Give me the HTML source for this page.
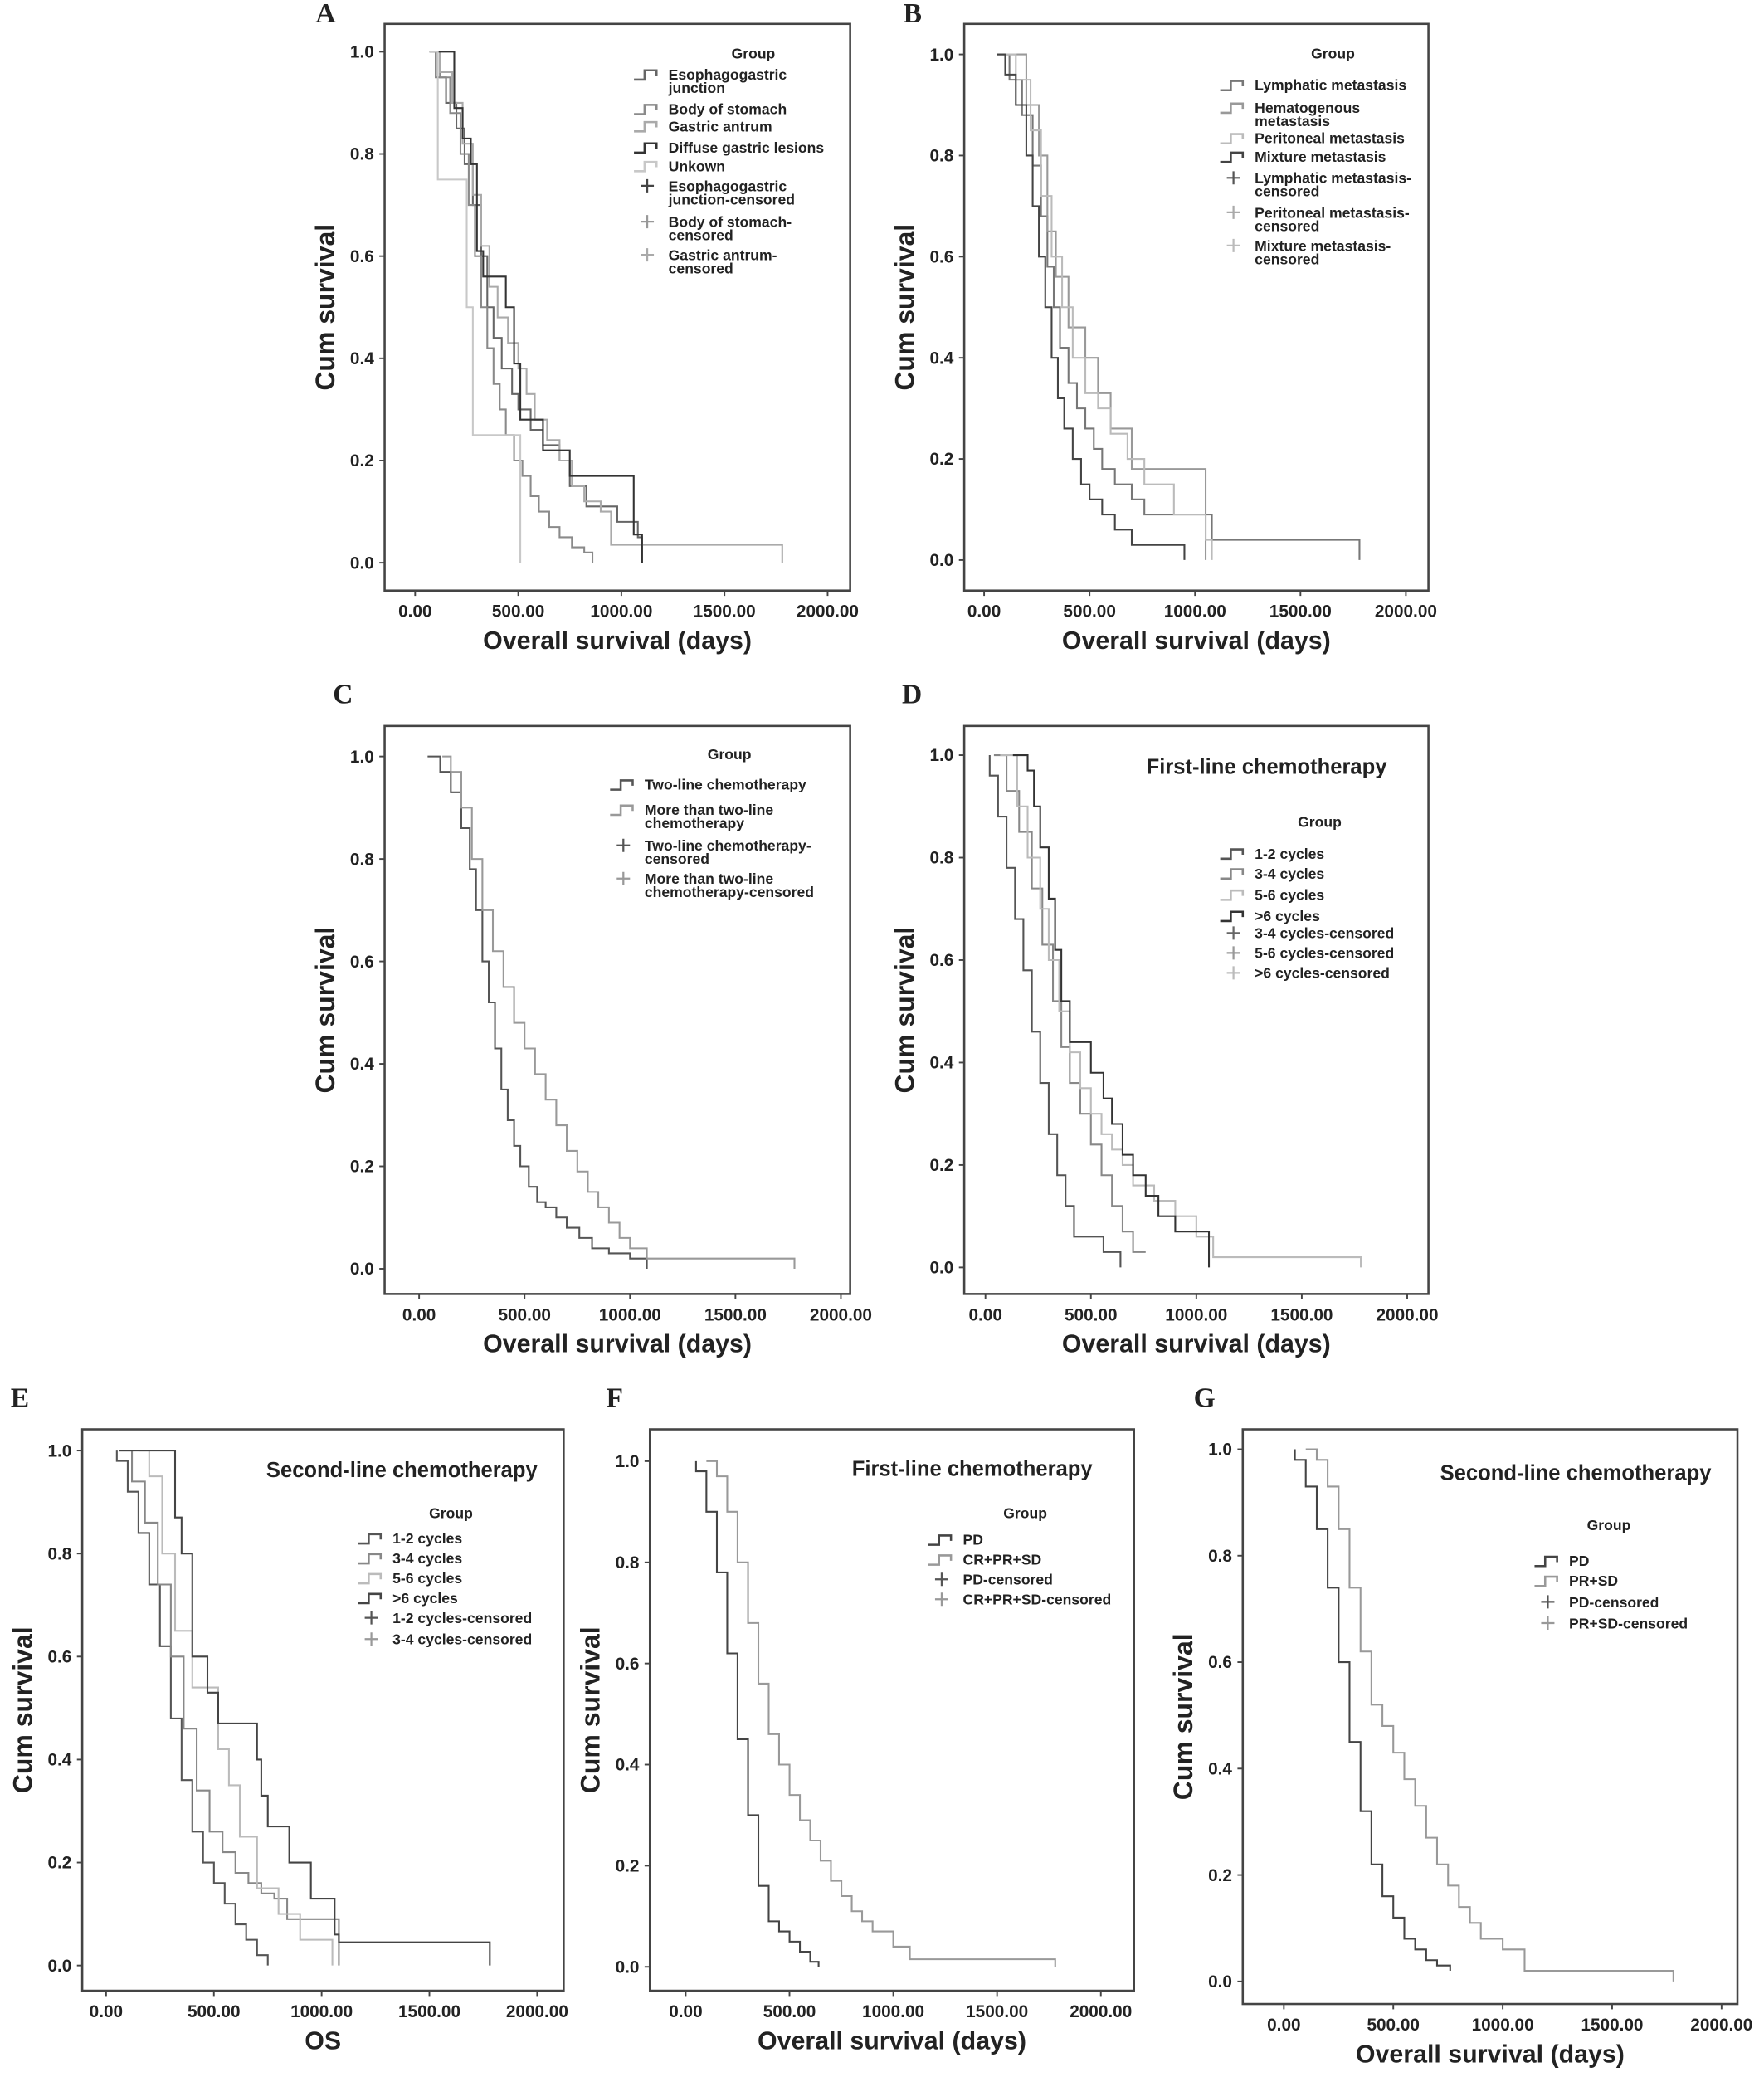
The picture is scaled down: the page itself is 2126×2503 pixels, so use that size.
<!DOCTYPE html>
<html><head><meta charset="utf-8"><style>
html,body{margin:0;padding:0;background:#fff}
svg{display:block}
text{font-family:"Liberation Sans",sans-serif;font-weight:bold;fill:#222}
text.letter{font-family:"Liberation Serif",serif}
</style></head><body>
<svg id="fig" width="2126" height="2503" viewBox="0 0 1330 1565" preserveAspectRatio="none" xmlns="http://www.w3.org/2000/svg"></svg>
<script>
const aEsoT=[70,100,150,200,240,280,320,350,380,420,470,500,560,620,700,750,830,980,1080,1100];
const aEsoS=[1,0.95,0.9,0.85,0.78,0.7,0.6,0.5,0.44,0.38,0.33,0.3,0.26,0.23,0.2,0.15,0.11,0.08,0.05,0];
const aBodyT=[70,120,170,220,260,290,320,350,380,410,440,480,520,560,600,650,700,760,820,860];
const aBodyS=[1,0.95,0.88,0.8,0.7,0.6,0.5,0.42,0.35,0.3,0.25,0.2,0.17,0.13,0.1,0.07,0.05,0.03,0.02,0];
const aAntT=[70,120,180,230,280,320,360,400,450,500,540,580,640,700,760,820,900,950,1780];
const aAntS=[1,0.96,0.9,0.82,0.72,0.62,0.54,0.48,0.43,0.38,0.33,0.28,0.24,0.2,0.15,0.12,0.1,0.035,0];
const aDifT=[70,190,230,270,300,330,440,480,510,620,750,1060,1100];
const aDifS=[1,0.89,0.83,0.78,0.61,0.56,0.5,0.39,0.28,0.22,0.17,0.055,0];
const aUnkT=[70,110,250,280,510];
const aUnkS=[1,0.75,0.5,0.25,0];

const bMixT=[60,100,150,200,230,260,290,320,350,380,420,460,500,560,620,700,950];
const bMixS=[1,0.96,0.9,0.8,0.7,0.6,0.5,0.4,0.32,0.26,0.2,0.15,0.12,0.09,0.06,0.03,0];
const bLymT=[60,120,180,230,270,300,330,360,400,440,480,520,560,620,700,760,1080,1780];
const bLymS=[1,0.95,0.88,0.78,0.68,0.58,0.5,0.42,0.35,0.3,0.26,0.22,0.18,0.15,0.12,0.09,0.04,0];
const bHemT=[60,200,260,300,340,400,480,540,600,700,1050];
const bHemS=[1,0.9,0.8,0.65,0.56,0.46,0.4,0.33,0.26,0.18,0];
const bPerT=[60,150,220,270,320,370,420,480,540,600,680,760,900,1050,1080];
const bPerS=[1,0.95,0.85,0.72,0.6,0.5,0.4,0.33,0.3,0.25,0.2,0.15,0.09,0.04,0];

const cTwoT=[40,100,150,200,240,270,300,330,360,390,420,450,480,520,560,600,650,700,760,820,900,1000,1080];
const cTwoS=[1,0.97,0.93,0.86,0.78,0.7,0.6,0.52,0.43,0.35,0.29,0.24,0.2,0.16,0.13,0.12,0.1,0.08,0.06,0.04,0.03,0.02,0];
const cMoreT=[110,150,200,250,300,350,400,450,500,550,600,650,700,750,800,850,900,950,1000,1080,1780];
const cMoreS=[1,0.97,0.9,0.8,0.7,0.62,0.55,0.48,0.43,0.38,0.33,0.28,0.23,0.19,0.15,0.12,0.09,0.06,0.04,0.02,0];

const d12T=[20,60,100,140,180,220,260,300,340,380,420,560,640];
const d12S=[0.96,0.88,0.78,0.68,0.58,0.46,0.36,0.26,0.18,0.12,0.06,0.03,0];
const d34T=[40,100,160,220,270,320,360,400,450,500,550,600,650,700,760];
const d34S=[1,0.93,0.85,0.74,0.63,0.52,0.43,0.36,0.3,0.24,0.18,0.12,0.07,0.03,0.03];
const d56T=[70,150,200,260,300,350,400,450,500,550,600,650,700,800,900,1000,1080,1780];
const d56S=[1,0.9,0.8,0.7,0.6,0.5,0.42,0.35,0.3,0.26,0.23,0.2,0.16,0.13,0.1,0.06,0.02,0];
const d6T=[130,200,230,260,300,330,360,400,500,560,600,650,700,760,820,900,1060];
const d6S=[1,0.97,0.9,0.82,0.72,0.62,0.52,0.44,0.38,0.33,0.28,0.22,0.18,0.14,0.1,0.07,0];

const e12T=[50,100,150,200,250,300,350,400,450,500,550,600,650,700,750];
const e12S=[0.98,0.92,0.84,0.74,0.62,0.48,0.36,0.26,0.2,0.16,0.12,0.08,0.05,0.02,0];
const e34T=[60,120,180,240,300,360,420,480,540,600,660,720,780,840,1080];
const e34S=[1,0.94,0.86,0.74,0.6,0.46,0.34,0.26,0.22,0.18,0.16,0.14,0.13,0.09,0];
const e56T=[150,200,260,320,400,520,570,620,700,800,900,1050];
const e56S=[1,0.95,0.8,0.65,0.54,0.42,0.35,0.25,0.15,0.1,0.05,0];
const e6T=[60,320,350,400,470,520,700,720,750,850,950,1060,1080,1780];
const e6S=[1,0.87,0.8,0.6,0.53,0.47,0.4,0.33,0.27,0.2,0.13,0.06,0.045,0];

const fPdT=[50,100,150,200,250,300,350,400,450,500,550,600,640];
const fPdS=[0.98,0.9,0.78,0.62,0.45,0.3,0.16,0.09,0.07,0.05,0.03,0.01,0];
const fCrT=[100,150,200,250,300,350,400,450,500,550,600,650,700,750,800,850,900,1000,1080,1780];
const fCrS=[1,0.97,0.9,0.8,0.68,0.56,0.46,0.4,0.34,0.29,0.25,0.21,0.17,0.14,0.11,0.09,0.07,0.04,0.015,0];

const gPdT=[50,100,150,200,250,300,350,400,450,500,550,600,650,700,760];
const gPdS=[0.98,0.93,0.85,0.74,0.6,0.45,0.32,0.22,0.16,0.12,0.08,0.06,0.04,0.03,0.02];
const gPrT=[100,150,200,250,300,350,400,450,500,550,600,650,700,750,800,850,900,1000,1100,1780];
const gPrS=[1,0.98,0.93,0.85,0.74,0.62,0.52,0.48,0.43,0.38,0.33,0.27,0.22,0.18,0.14,0.11,0.08,0.06,0.02,0];

const xTickLabels=["0.00","500.00","1000.00","1500.00","2000.00"];
const xTickVals=[0,500,1000,1500,2000];
const yTickLabels=["0.0","0.2","0.4","0.6","0.8","1.0"];
const yTickVals=[0,0.2,0.4,0.6,0.8,1.0];

const svg=document.getElementById('fig');
const NS="http://www.w3.org/2000/svg";
function mk(tag,attrs,parent){const e=document.createElementNS(NS,tag);for(const k in attrs)e.setAttribute(k,attrs[k]);(parent||svg).appendChild(e);return e;}
function txt(x,y,s,size,parent,anchor){const t=mk('text',{x:x,y:y,'font-size':size,'text-anchor':anchor||'start'},parent);t.textContent=s;return t;}

const panels=[
 {id:'a',L:'A',lx:238,ly:17,box:[290,18,641,445],x0:313,x2:624,y1:39,y0:424,xt:'Overall survival (days)',
  series:[[aEsoT,aEsoS,'#666'],[aBodyT,aBodyS,'#8a8a8a'],[aAntT,aAntS,'#aaa'],[aDifT,aDifS,'#333'],[aUnkT,aUnkS,'#c8c8c8']],
  gx:568,gy:44,leg:[[478,60,'#666',['Esophagogastric','junction']],[478,86,'#8a8a8a',['Body of stomach']],[478,99,'#aaa',['Gastric antrum']],[478,115,'#333',['Diffuse gastric lesions']],[478,129,'#c8c8c8',['Unkown']],[478,144,'#444',['Esophagogastric','junction-censored'],1],[478,171,'#999',['Body of stomach-','censored'],1],[478,196,'#aaa',['Gastric antrum-','censored'],1]]},
 {id:'b',L:'B',lx:681,ly:17,box:[727,18,1077,445],x0:742,x2:1060,y1:41,y0:422,xt:'Overall survival (days)',
  series:[[bLymT,bLymS,'#777'],[bHemT,bHemS,'#999'],[bPerT,bPerS,'#bbb'],[bMixT,bMixS,'#444']],
  gx:1005,gy:44,leg:[[920,68,'#777',['Lymphatic metastasis']],[920,85,'#999',['Hematogenous','metastasis']],[920,108,'#bbb',['Peritoneal metastasis']],[920,122,'#444',['Mixture metastasis']],[920,138,'#555',['Lymphatic metastasis-','censored'],1],[920,164,'#aaa',['Peritoneal metastasis-','censored'],1],[920,189,'#bbb',['Mixture metastasis-','censored'],1]]},
 {id:'c',L:'C',lx:251,ly:530,box:[290,547,641,975],x0:316,x2:634,y1:570,y0:956,xt:'Overall survival (days)',
  series:[[cTwoT,cTwoS,'#555'],[cMoreT,cMoreS,'#999']],
  gx:550,gy:572,leg:[[460,595,'#555',['Two-line chemotherapy']],[460,614,'#999',['More than two-line','chemotherapy']],[460,641,'#555',['Two-line chemotherapy-','censored'],1],[460,666,'#999',['More than two-line','chemotherapy-censored'],1]]},
 {id:'d',L:'D',lx:680,ly:530,box:[727,547,1077,975],x0:743,x2:1061,y1:569,y0:955,xt:'Overall survival (days)',title:['First-line chemotherapy',955,583],
  series:[[d12T,d12S,'#555'],[d34T,d34S,'#888'],[d56T,d56S,'#bbb'],[d6T,d6S,'#333']],
  gx:995,gy:623,leg:[[920,647,'#555',['1-2 cycles']],[920,662,'#888',['3-4 cycles']],[920,678,'#bbb',['5-6 cycles']],[920,694,'#333',['>6 cycles']],[920,707,'#666',['3-4 cycles-censored'],1],[920,722,'#999',['5-6 cycles-censored'],1],[920,737,'#bbb',['>6 cycles-censored'],1]]},
 {id:'e',L:'E',lx:8,ly:1060,box:[62,1077,425,1500],x0:80,x2:405,y1:1093,y0:1481,xt:'OS',title:['Second-line chemotherapy',303,1113],
  series:[[e12T,e12S,'#555'],[e34T,e34S,'#888'],[e56T,e56S,'#bbb'],[e6T,e6S,'#444']],
  gx:340,gy:1144,leg:[[270,1163,'#555',['1-2 cycles']],[270,1178,'#888',['3-4 cycles']],[270,1193,'#bbb',['5-6 cycles']],[270,1208,'#444',['>6 cycles']],[270,1223,'#555',['1-2 cycles-censored'],1],[270,1239,'#999',['3-4 cycles-censored'],1]]},
 {id:'f',L:'F',lx:457,ly:1060,box:[490,1077,855,1500],x0:517,x2:830,y1:1101,y0:1482,xt:'Overall survival (days)',title:['First-line chemotherapy',733,1112],
  series:[[fPdT,fPdS,'#444'],[fCrT,fCrS,'#999']],
  gx:773,gy:1144,leg:[[700,1164,'#444',['PD']],[700,1179,'#999',['CR+PR+SD']],[700,1194,'#555',['PD-censored'],1],[700,1209,'#999',['CR+PR+SD-censored'],1]]},
 {id:'g',L:'G',lx:900,ly:1060,box:[937,1077,1310,1510],x0:968,x2:1298,y1:1092,y0:1493,xt:'Overall survival (days)',title:['Second-line chemotherapy',1188,1115],
  series:[[gPdT,gPdS,'#444'],[gPrT,gPrS,'#999']],
  gx:1213,gy:1153,leg:[[1157,1180,'#444',['PD']],[1157,1195,'#999',['PR+SD']],[1157,1211,'#555',['PD-censored'],1],[1157,1227,'#999',['PR+SD-censored'],1]]}
];

panels.forEach(p=>{
  const g=mk('g',{});
  
  
  const X=t=>p.x0+(p.x2-p.x0)*t/2000;
  const Y=s=>p.y0+(p.y1-p.y0)*s;
  const [bl,bt,br,bb]=p.box;
  const lt=mk('text',{x:p.lx,y:p.ly,'font-size':21,'class':'letter'},g);lt.textContent=p.L;
  
  
  const frame=mk('rect',{x:bl,y:bt,width:br-bl,height:bb-bt,fill:'none',stroke:'#444','stroke-width':1.6},g);
  
  
  xTickVals.forEach((v,i)=>{
    mk('line',{x1:X(v),x2:X(v),y1:bb,y2:bb+4,stroke:'#444','stroke-width':1.2},g);
    const t=txt(X(v),bb+20,xTickLabels[i],13,g,'middle');
    
    
  });
  yTickVals.forEach((v,i)=>{
    mk('line',{x1:bl-4,x2:bl,y1:Y(v),y2:Y(v),stroke:'#444','stroke-width':1.2},g);
    const t=txt(bl-8,Y(v)+4.5,yTickLabels[i],13,g,'end');
    
    
  });
  const xt=txt((bl+br)/2,bb+44,p.xt,19,g,'middle');
  
  
  const ycx=bl-38, ycy=(bt+bb)/2;
  const yt=txt(ycx,ycy,'Cum survival',20,g,'middle');
  yt.setAttribute('transform','rotate(-90 '+ycx+' '+ycy+')');
  
  
  if(p.title){const tt=txt(p.title[1],p.title[2],p.title[0],16,g,'middle');
    
    }
  p.series.forEach((sr,si)=>{
    const [T,S,col]=sr;
    let d='M'+X(T[0]).toFixed(1)+','+Y(1).toFixed(1);
    d+=' V'+Y(S[0]).toFixed(1);
    for(let i=1;i<T.length;i++){d+=' H'+X(T[i]).toFixed(1)+' V'+Y(S[i]).toFixed(1);}
    const path=mk('path',{d:d,fill:'none',stroke:col,'stroke-width':1.3},g);
    
    
  });
  const gt=txt(p.gx,p.gy,'Group',11,g,'middle');
  
  
  p.leg.forEach(e=>{
    const [lx,ly,col,lines,cens]=e;
    const lg=mk('g',{},g);
    
    
    const cy=ly-4;
    if(cens){
      mk('path',{d:'M'+(lx+10)+','+(cy-5)+' v10 M'+(lx+5)+','+cy+' h10',stroke:col,'stroke-width':1.4,fill:'none'},lg);
    } else {
      mk('path',{d:'M'+lx+','+(cy+4)+' h8 v-7 h9 v4',stroke:col,'stroke-width':1.6,fill:'none'},lg);
    }
    lines.forEach((s,i)=>txt(lx+26,ly+i*10,s,11,lg));
  });
});
</script>
</body></html>
